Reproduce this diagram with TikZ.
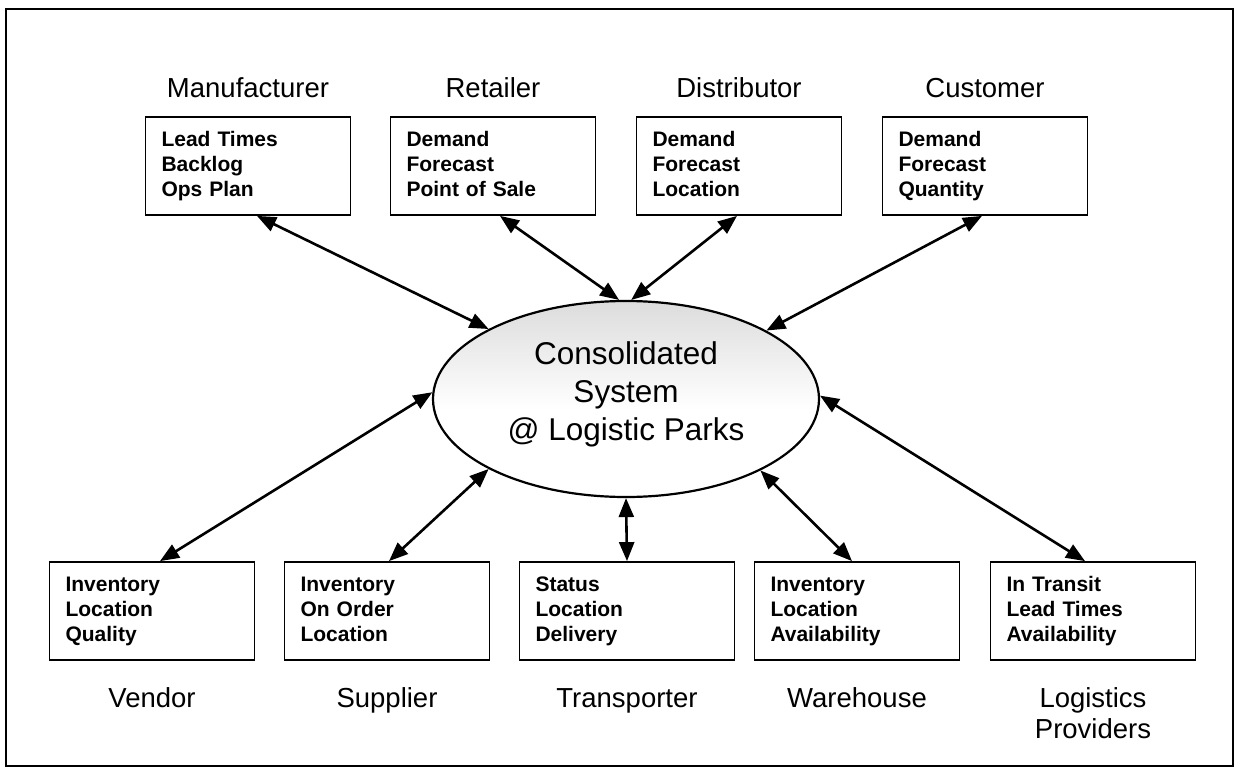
\documentclass[tikz,border=0pt]{standalone}
\usepackage{fontspec}
\setmainfont{Liberation Sans}
\usetikzlibrary{arrows.meta,shapes.geometric}
\newcommand\threelines[3]{\strut #1\\\strut #2\\\strut #3}
\begin{document}
\begin{tikzpicture}[x=1pt,y=-1pt,
  infobox/.style={draw, line width=1.8pt, minimum height=98pt, text width=173pt,
    inner xsep=16pt, inner ysep=0pt, align=left, font=\fontsize{21}{25}\selectfont\bfseries},
  rolelabel/.style={font=\fontsize{27.5}{31}\selectfont, anchor=base, align=center, inner sep=0pt},
  conn/.style={line width=2.6pt, {Triangle[length=19pt,width=15pt]}-{Triangle[length=19pt,width=15pt]}}
]
\useasboundingbox (0,0) rectangle (1237,768);
\fill[white] (0,0) rectangle (1237,768);
\draw[line width=2pt] (6,9) rectangle (1233,766);

% central system: light stipple-like shading at the top
\begin{scope}
  \clip (626,399) ellipse [x radius=193, y radius=98];
  \shade[top color=black!14, bottom color=white] (430,298) rectangle (822,410);
\end{scope}
\node[ellipse, draw, line width=2.2pt, minimum width=386pt, minimum height=196pt, inner sep=0pt] (sys) at (626,399) {};
\node[font=\fontsize{31.5}{38}\selectfont, align=center] (systext) at (626,394)
  {Consolidated\\System\\@ Logistic Parks};

% top boxes
\node[infobox] (mfr) at (248,166) {\threelines{Lead Times}{Backlog}{Ops Plan}};
\node[infobox] (ret) at (493,166) {\threelines{Demand}{Forecast}{Point of Sale}};
\node[infobox] (dis) at (739,166) {\threelines{Demand}{Forecast}{Location}};
\node[infobox] (cus) at (985,166) {\threelines{Demand}{Forecast}{Quantity}};

\node[rolelabel] (mfrl) at (248,97) {Manufacturer};
\node[rolelabel] (retl) at (493,97) {Retailer};
\node[rolelabel] (disl) at (739,97) {Distributor};
\node[rolelabel] (cusl) at (985,97) {Customer};

% bottom boxes
\node[infobox] (ven) at (152,611) {\threelines{Inventory}{Location}{Quality}};
\node[infobox] (sup) at (387,611) {\threelines{Inventory}{On Order}{Location}};
\node[infobox, text width=183pt] (tra) at (627,611) {\threelines{Status}{Location}{Delivery}};
\node[infobox] (war) at (857,611) {\threelines{Inventory}{Location}{Availability}};
\node[infobox] (log) at (1093,611) {\threelines{In Transit}{Lead Times}{Availability}};

\node[rolelabel] (venl) at (152,707) {Vendor};
\node[rolelabel] (supl) at (387,707) {Supplier};
\node[rolelabel] (tral) at (627,707) {Transporter};
\node[rolelabel] (warl) at (857,707) {Warehouse};
\node[rolelabel] (logl) at (1093,738) {Logistics\\Providers};

% connectors
\draw[conn] ([xshift=9pt]mfr.south) -- (sys.153.1);
\draw[conn] ([xshift=7pt]ret.south) -- (sys.94.6);
\draw[conn] ([xshift=-2pt]dis.south) -- (sys.87.7);
\draw[conn] ([xshift=-3pt]cus.south) -- (sys.26.7);
\draw[conn] ([xshift=8pt]ven.north) -- (sys.178.8);
\draw[conn] ([xshift=2pt]sup.north) -- (sys.207.6);
\draw[conn] (tra.north) -- (sys.270);
\draw[conn] ([xshift=-5pt]war.north) -- (sys.332.9);
\draw[conn] ([xshift=-8pt]log.north) -- (sys.1.2);
\end{tikzpicture}
\end{document}
